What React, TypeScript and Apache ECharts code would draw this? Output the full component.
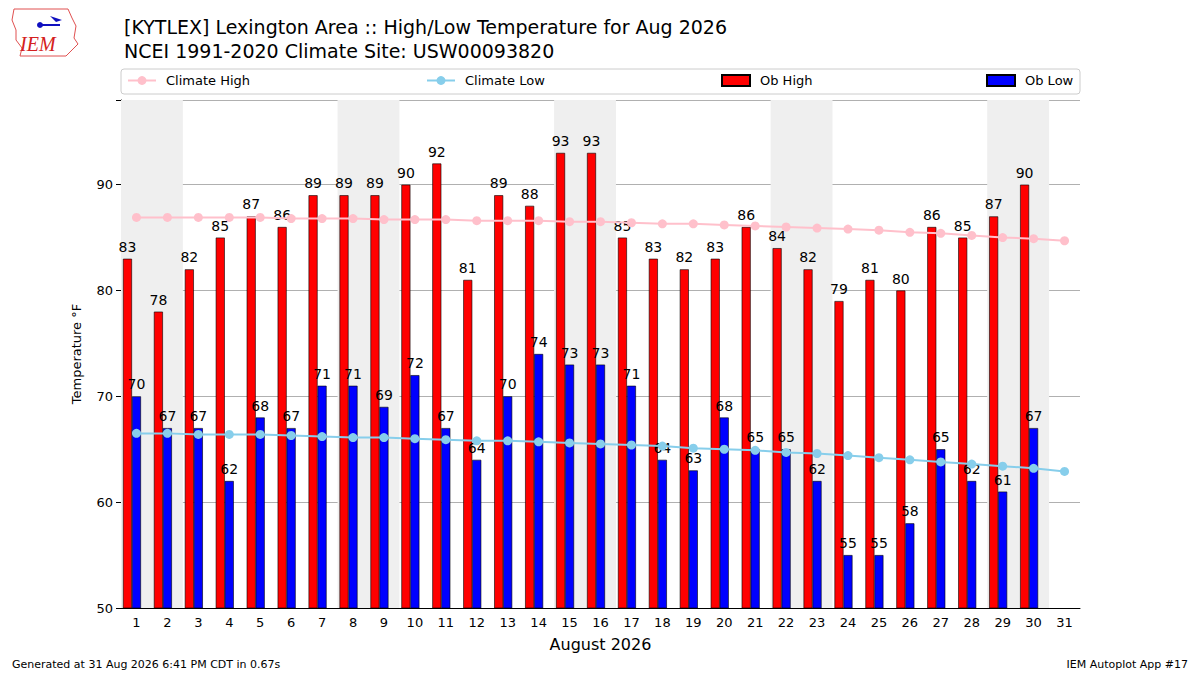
import { useEffect, useRef } from 'react';
import * as echarts from 'echarts';

const DAYS = Array.from({ length: 31 }, (_, i) => String(i + 1));
const OB_HIGH = [83, 78, 82, 85, 87, 86, 89, 89, 89, 90, 92, 81, 89, 88, 93, 93, 85, 83, 82, 83, 86, 84, 82, 79, 81, 80, 86, 85, 87, 90, null];
const OB_LOW = [70, 67, 67, 62, 68, 67, 71, 71, 69, 72, 67, 64, 70, 74, 73, 73, 71, 64, 63, 68, 65, 65, 62, 55, 55, 58, 65, 62, 61, 67, null];
const CLIMATE_HIGH = [86.9, 86.9, 86.9, 86.9, 86.9, 86.8, 86.8, 86.8, 86.7, 86.7, 86.7, 86.6, 86.6, 86.6, 86.5, 86.5, 86.4, 86.3, 86.3, 86.2, 86.1, 86.0, 85.9, 85.8, 85.7, 85.5, 85.4, 85.2, 85.0, 84.9, 84.7];
const CLIMATE_LOW = [66.5, 66.5, 66.4, 66.4, 66.4, 66.3, 66.2, 66.1, 66.1, 66.0, 65.9, 65.8, 65.8, 65.7, 65.6, 65.5, 65.4, 65.3, 65.1, 65.0, 64.9, 64.7, 64.6, 64.4, 64.2, 64.0, 63.8, 63.6, 63.4, 63.2, 62.9];
// weekend spans, in day-slot units (0 = left edge of day 1)
const WEEKENDS = [[0, 2], [7, 9], [14, 16], [21, 23], [28, 30]];

const FONT = 'DejaVu Sans';

export default function App() {
  const ref = useRef<HTMLDivElement>(null);

  useEffect(() => {
    document.body.style.margin = '0';
    if (!ref.current) return;
    const chart = echarts.init(ref.current, undefined, { renderer: 'svg' });
    const barLabel = { show: true, position: 'top', color: '#000', fontSize: 14, fontFamily: FONT, distance: 5 };
    const legendBase = {
      top: 69, itemWidth: 28, itemHeight: 11,
      textStyle: { fontSize: 13, fontFamily: FONT, color: '#000', padding: [0, 0, 0, 5] },
    };
    chart.setOption({
      animation: false,
      textStyle: { fontFamily: FONT },
      grid: { left: 121, right: 120, top: 100, bottom: 67 },
      title: [
        { text: '[KYTLEX] Lexington Area :: High/Low Temperature for Aug 2026', left: 119, top: 12, textStyle: { fontSize: 19, fontWeight: 'normal', color: '#000', fontFamily: FONT } },
        { text: 'NCEI 1991-2020 Climate Site: USW00093820', left: 119, top: 36, textStyle: { fontSize: 19, fontWeight: 'normal', color: '#000', fontFamily: FONT } },
      ],
      legend: [
        { ...legendBase, left: 122, data: ['Climate High'] },
        { ...legendBase, left: 421, data: ['Climate Low'] },
        { ...legendBase, left: 716, data: [{ name: 'Ob High', icon: 'rect' }] },
        { ...legendBase, left: 981, data: [{ name: 'Ob Low', icon: 'rect' }] },
      ],
      graphic: [
        { type: 'rect', shape: { x: 121, y: 69, width: 959, height: 25, r: 3 }, style: { fill: 'none', stroke: '#ccc', lineWidth: 1 }, z: -1 },
        {
          type: 'polyline',
          shape: { points: [[14, 9], [68, 9], [72, 18], [76, 26], [74, 38], [78, 44], [70, 52], [66, 56], [20, 56], [22, 48], [16, 40], [16, 30], [12, 20], [14, 9]] },
          style: { fill: 'none', stroke: '#e05050', lineWidth: 1 },
        },
        { type: 'line', shape: { x1: 40, y1: 25, x2: 60, y2: 25 }, style: { stroke: '#1010c0', lineWidth: 2 } },
        { type: 'circle', shape: { cx: 40, cy: 25, r: 3 }, style: { fill: '#1010c0' } },
        { type: 'polygon', shape: { points: [[50, 16], [62, 20], [56, 22]] }, style: { fill: '#1010c0' } },
        { type: 'text', left: 20, top: 34, style: { text: 'IEM', fontSize: 20, fontStyle: 'italic', fontFamily: 'Liberation Serif', fill: '#d42020' } },
        { type: 'text', left: 12, top: 659, style: { text: 'Generated at 31 Aug 2026 6:41 PM CDT in 0.67s', fontSize: 11, fontFamily: FONT, fill: '#000' } },
        { type: 'text', right: 12, top: 659, style: { text: 'IEM Autoplot App #17', fontSize: 11, fontFamily: FONT, fill: '#000' } },
      ],
      xAxis: [
        {
          type: 'category', data: DAYS, name: 'August 2026', nameLocation: 'middle', nameGap: 28,
          nameTextStyle: { fontSize: 16, color: '#000' },
          axisLine: { lineStyle: { color: '#000' } }, axisTick: { alignWithLabel: true, lineStyle: { color: '#000' } },
          axisLabel: { color: '#000', fontSize: 13 },
        },
        { type: 'value', min: 0, max: 31, show: false, position: 'top' },
      ],
      yAxis: {
        type: 'value', min: 50, max: 98, interval: 10, name: 'Temperature °F', nameLocation: 'middle', nameGap: 38,
        nameTextStyle: { fontSize: 13, color: '#000' },
        axisLine: { show: true, lineStyle: { color: '#000' } }, axisTick: { show: true, lineStyle: { color: '#000' } },
        axisLabel: { color: '#000', fontSize: 13, formatter: (v: number) => (v % 10 === 0 ? String(v) : '') },
        splitLine: { lineStyle: { color: '#b0b0b0' } },
      },
      series: [
        {
          type: 'line', xAxisIndex: 1, data: [], silent: true,
          markArea: { silent: true, itemStyle: { color: '#efefef' }, data: WEEKENDS.map(([a, b]) => [{ xAxis: a }, { xAxis: b }]) },
        },
        { name: 'Ob High', type: 'bar', data: OB_HIGH, barWidth: 9, barGap: '0%', itemStyle: { color: '#ff0000', borderColor: '#000', borderWidth: 0.6 }, label: barLabel, z: 3 },
        { name: 'Ob Low', type: 'bar', data: OB_LOW, barWidth: 9, itemStyle: { color: '#0000ff', borderColor: '#000', borderWidth: 0.6 }, label: barLabel, z: 3 },
        // empty slot so the blue bar sits on the tick, as in the source plot
        { name: 'pad', type: 'bar', data: [], barWidth: 9 },
        { name: 'Climate High', type: 'line', data: CLIMATE_HIGH, symbol: 'circle', symbolSize: 9, itemStyle: { color: '#ffc0cb' }, lineStyle: { color: '#ffc0cb', width: 2 }, z: 4 },
        { name: 'Climate Low', type: 'line', data: CLIMATE_LOW, symbol: 'circle', symbolSize: 9, itemStyle: { color: '#87ceeb' }, lineStyle: { color: '#87ceeb', width: 2 }, z: 4 },
      ],
    });
    return () => chart.dispose();
  }, []);

  return <div ref={ref} style={{ width: 1200, height: 675 }} />;
}
